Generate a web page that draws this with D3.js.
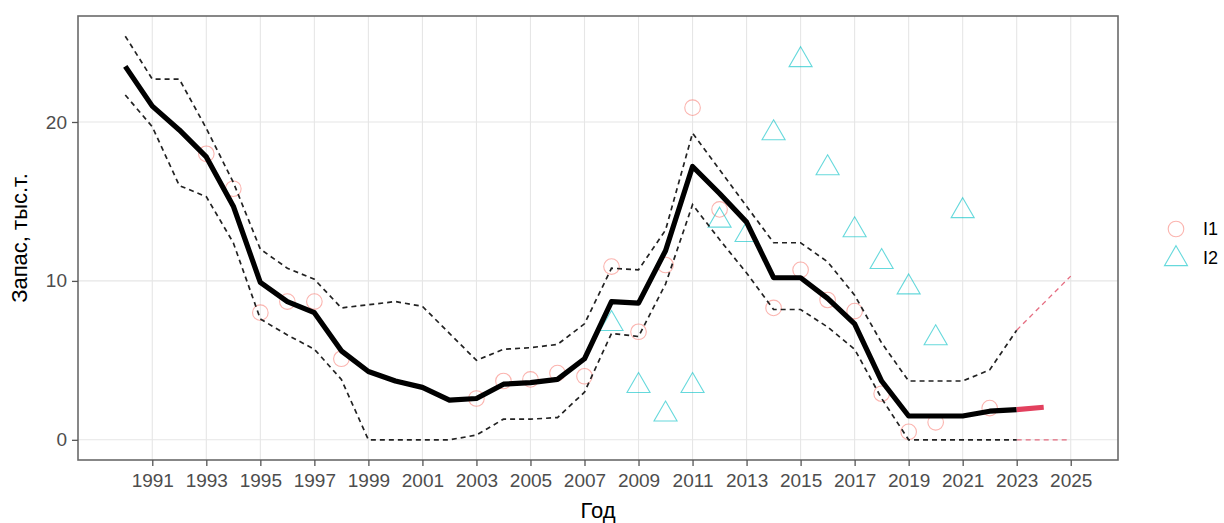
<!DOCTYPE html>
<html>
<head>
<meta charset="utf-8">
<script src="https://cdn.jsdelivr.net/npm/d3@7"></script>
<style>
  body { margin: 0; background: #fff; }
  text { font-family: "Liberation Sans", Arial, sans-serif; }
</style>
</head>
<body>
<svg id="chart" width="1224" height="523"></svg>
<script>
// Stock estimate with confidence band, 1990–2023
const years   = [1990,1991,1992,1993,1994,1995,1996,1997,1998,1999,2000,2001,2002,2003,2004,2005,2006,
                 2007,2008,2009,2010,2011,2012,2013,2014,2015,2016,2017,2018,2019,2020,2021,2022,2023];
const biomass = [23.5,21.0,19.5,17.8,14.7,9.9,8.7,8.0,5.6,4.3,3.7,3.3,2.5,2.6,3.5,3.6,3.8,
                 5.1,8.7,8.6,11.9,17.2,15.5,13.7,10.2,10.2,8.9,7.3,3.7,1.5,1.5,1.5,1.8,1.9];
const upper   = [25.4,22.7,22.7,19.6,16.2,12.0,10.8,10.1,8.3,8.5,8.7,8.4,6.7,5.0,5.7,5.8,6.0,
                 7.3,10.8,10.7,13.2,19.3,17.0,14.7,12.4,12.4,11.2,9.1,6.1,3.7,3.7,3.7,4.4,6.9];
const lower   = [21.7,19.7,16.0,15.3,12.4,7.6,6.6,5.7,3.8,0.0,0.0,0.0,0.0,0.3,1.3,1.3,1.4,
                 3.0,6.7,6.5,9.8,14.8,12.6,10.5,8.2,8.2,7.1,5.7,2.6,0.0,0.0,0.0,0.0,0.0];

// Projection
const projYears     = [2023, 2024];
const projBiomass   = [1.9, 2.05];
const projBandYears = [2023, 2024, 2025];
const projUpper     = [6.9, 8.6, 10.3];
const projLower     = [0.0, 0.0, 0.0];

// Survey indices
const i1Years  = [1993,1994,1995,1996,1997,1998,2003,2004,2005,2006,2007,2008,2009,2010,2011,2012,
                  2014,2015,2016,2017,2018,2019,2020,2022];
const i1Values = [18.0,15.8,8.0,8.7,8.7,5.1,2.6,3.7,3.8,4.2,4.0,10.9,6.8,11.0,20.9,14.5,
                  8.3,10.7,8.8,8.1,2.9,0.5,1.1,2.0];
const i2Years  = [2008,2009,2010,2011,2012,2013,2014,2015,2016,2017,2018,2019,2020,2021];
const i2Values = [7.3,3.4,1.6,3.4,13.8,12.9,19.3,23.9,17.1,13.2,11.2,9.6,6.4,14.4];

const xTicks = [1991,1993,1995,1997,1999,2001,2003,2005,2007,2009,2011,2013,2015,2017,2019,2021,2023,2025];
const yTicks = [0, 10, 20];
const seriesNames  = ["I1", "I2"];
const seriesColors = ["#F8766D", "#00BFC4"];

const svg = d3.select("#chart");
const panel = { left: 78, right: 1118, top: 16, bottom: 460 };

// Scales with 5% expansion on each side
const xMin = 1990, xMax = 2025;
const xPad = (xMax - xMin) * 0.05;
const x = d3.scaleLinear().domain([xMin - xPad, xMax + xPad]).range([panel.left, panel.right]);
const yMax = d3.max(upper);
const yPad = yMax * 0.05;
const y = d3.scaleLinear().domain([-yPad, yMax + yPad]).range([panel.bottom, panel.top]);

// Grid
const grid = svg.append("g");
grid.selectAll("line.v").data(xTicks).join("line")
  .attr("x1", d => x(d)).attr("x2", d => x(d))
  .attr("y1", panel.top).attr("y2", panel.bottom)
  .attr("stroke", "#e6e6e6").attr("stroke-width", 1.1);
grid.selectAll("line.h").data(yTicks).join("line")
  .attr("x1", panel.left).attr("x2", panel.right)
  .attr("y1", d => y(d)).attr("y2", d => y(d))
  .attr("stroke", "#e6e6e6").attr("stroke-width", 1.1);

// Index points
const pts = svg.append("g");
pts.selectAll("circle").data(i1Years.map((yr, i) => [yr, i1Values[i]])).join("circle")
  .attr("cx", d => x(d[0])).attr("cy", d => y(d[1])).attr("r", 7.8)
  .attr("fill", "none").attr("stroke", seriesColors[0]).attr("stroke-opacity", 0.55).attr("stroke-width", 1.1);
const tri = d3.symbol().type(d3.symbolTriangle).size(230);
pts.selectAll("path").data(i2Years.map((yr, i) => [yr, i2Values[i]])).join("path")
  .attr("d", tri)
  .attr("transform", d => `translate(${x(d[0])},${y(d[1])})`)
  .attr("fill", "none").attr("stroke", seriesColors[1]).attr("stroke-opacity", 0.6).attr("stroke-width", 1.1);

// Lines
const line = d3.line().x(d => x(d[0])).y(d => y(d[1]));
const zipYears = (ys, vs) => ys.map((yr, i) => [yr, vs[i]]);

svg.append("path").datum(zipYears(projBandYears, projUpper)).attr("d", line)
  .attr("fill", "none").attr("stroke", "#E0536B").attr("stroke-opacity", 0.85)
  .attr("stroke-width", 1.3).attr("stroke-dasharray", "5,4");
svg.append("path").datum(zipYears(projBandYears, projLower)).attr("d", line)
  .attr("fill", "none").attr("stroke", "#E0536B").attr("stroke-opacity", 0.85)
  .attr("stroke-width", 1.3).attr("stroke-dasharray", "5,4");

[upper, lower].forEach(vals => {
  svg.append("path").datum(zipYears(years, vals)).attr("d", line)
    .attr("fill", "none").attr("stroke", "#222").attr("stroke-width", 1.7)
    .attr("stroke-dasharray", "5,4");
});

svg.append("path").datum(zipYears(years, biomass)).attr("d", line)
  .attr("fill", "none").attr("stroke", "#000").attr("stroke-width", 5.2)
  .attr("stroke-linejoin", "round").attr("stroke-linecap", "butt");
svg.append("path").datum(zipYears(projYears, projBiomass)).attr("d", line)
  .attr("fill", "none").attr("stroke", "#E2405E").attr("stroke-width", 5.2)
  .attr("stroke-linecap", "butt");

// Panel border
svg.append("rect")
  .attr("x", panel.left).attr("y", panel.top)
  .attr("width", panel.right - panel.left).attr("height", panel.bottom - panel.top)
  .attr("fill", "none").attr("stroke", "#6a6a6a").attr("stroke-width", 1.6);

// Axes
const xAxis = svg.append("g").attr("transform", `translate(0,${panel.bottom})`)
  .call(d3.axisBottom(x).tickValues(xTicks).tickFormat(d3.format("d")).tickSize(6).tickPadding(8));
const yAxis = svg.append("g").attr("transform", `translate(${panel.left},0)`)
  .call(d3.axisLeft(y).tickValues(yTicks).tickSize(6).tickPadding(5));
[xAxis, yAxis].forEach(a => {
  a.select(".domain").remove();
  a.selectAll(".tick line").attr("stroke", "#555").attr("stroke-width", 1.3);
  a.selectAll(".tick text").attr("fill", "#4d4d4d").style("font-size", "19px")
    .style("font-family", '"Liberation Sans", Arial, sans-serif');
});

// Axis titles
svg.append("text")
  .attr("x", (panel.left + panel.right) / 2).attr("y", 518)
  .attr("text-anchor", "middle").style("font-size", "22px").attr("fill", "#000")
  .text("Год");
svg.append("text")
  .attr("transform", `translate(27,${(panel.top + panel.bottom) / 2}) rotate(-90)`)
  .attr("text-anchor", "middle").style("font-size", "22px").attr("fill", "#000")
  .text("Запас, тыс.т.");

// Legend
const legend = svg.append("g");
const legendY = [229, 258];
legend.append("circle").attr("cx", 1176).attr("cy", legendY[0]).attr("r", 7.8)
  .attr("fill", "none").attr("stroke", seriesColors[0]).attr("stroke-opacity", 0.55).attr("stroke-width", 1.1);
legend.append("path").attr("d", tri).attr("transform", `translate(1176,${legendY[1] + 1})`)
  .attr("fill", "none").attr("stroke", seriesColors[1]).attr("stroke-opacity", 0.6).attr("stroke-width", 1.1);
legend.selectAll("text").data(seriesNames).join("text")
  .attr("x", 1203).attr("y", (d, i) => legendY[i]).attr("dy", "0.36em")
  .style("font-size", "18px").attr("fill", "#000").text(d => d);
</script>
</body>
</html>
